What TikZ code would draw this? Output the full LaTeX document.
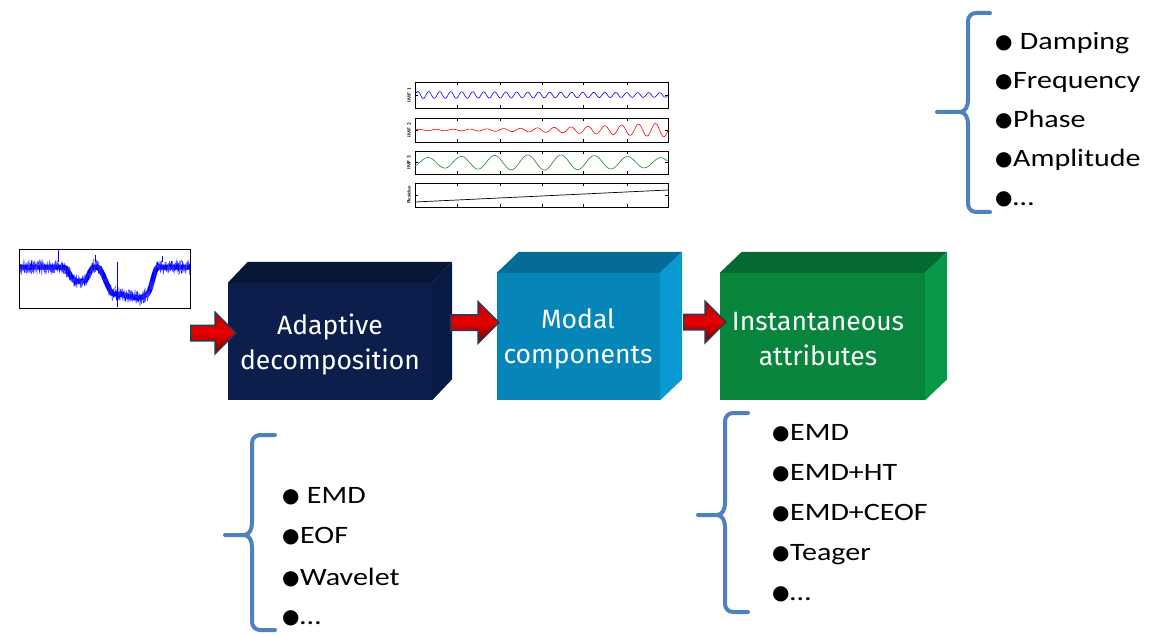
\documentclass[tikz,border=0pt]{standalone}
\usepackage{fontspec}
\setmainfont{Carlito}
\newfontfamily\boxfont{Fira Sans}
\newfontfamily\listfont[FakeStretch=1.2]{Carlito}
\newfontfamily\dejavu{DejaVu Sans}
\usetikzlibrary{shapes.arrows,calc}

\definecolor{navyF}{HTML}{0B1E4C}
\definecolor{navyT}{HTML}{081638}
\definecolor{navyS}{HTML}{071A44}
\definecolor{cyanF}{HTML}{0585B8}
\definecolor{cyanT}{HTML}{046C96}
\definecolor{cyanS}{HTML}{0A9AD2}
\definecolor{grnF}{HTML}{07853D}
\definecolor{grnT}{HTML}{056A2F}
\definecolor{grnS}{HTML}{079848}
\definecolor{braceblue}{HTML}{4F81BD}
\definecolor{arrowedge}{HTML}{2B3A55}
\definecolor{imfgreen}{HTML}{1E8A1E}

\newcommand\blt{\makebox[18pt][l]{\raisebox{1pt}{\dejavu\fontsize{20}{20}\selectfont ●}}}
\newcommand\mybrace[6]{%
  \draw[bracestyle] (#1,#4) -- (#2+8,#4) to[out=180,in=90] (#2,#4+8)
    -- (#2,#5-12) to[out=-90,in=0] (#2-8,#5) -- (#3,#5) -- (#2-8,#5)
    to[out=0,in=90] (#2,#5+12) -- (#2,#6-8) to[out=-90,in=180] (#2+8,#6) -- (#1,#6);}

\begin{document}
\begin{tikzpicture}[x=1pt,y=-1pt,
  declare function={
    clampx(\t)=min(max(\t,0),1);
    sst(\t)=3*clampx(\t)*clampx(\t)-2*clampx(\t)*clampx(\t)*clampx(\t);
    sigbase(\u)=267+14*(sst((\u-63)/13)-sst((\u-84)/10))+27*(sst((\u-97)/17)-sst((\u-147)/11))+4*sst((\u-115)/25)-4*sst((\u-140)/8);
  },
  face/.style={inner sep=0pt},
  boxtext/.style={inner sep=0pt, text=white, font=\boxfont\fontsize{26.5}{35}\selectfont, align=center},
  arr/.style={single arrow, draw=arrowedge, line width=1.5pt, top color=red!75!black,
    bottom color=red!45!black, middle color=red!90!black, inner xsep=0pt, inner ysep=7pt,
    single arrow head extend=13pt},
  bracestyle/.style={draw=braceblue, line width=4pt, line cap=round, line join=round},
  listitem/.style={inner sep=0pt, anchor=base west, font=\listfont\fontsize{25}{30}\selectfont},
  panel/.style={draw=black, line width=0.5pt, inner sep=0pt, minimum width=253pt},
  tick/.style={line width=0.4pt},
  imflabel/.style={rotate=90, inner sep=0pt, font=\sffamily\bfseries\fontsize{5}{5}\selectfont}]
\useasboundingbox[fill=white] (0,0) rectangle (1150,636);

% ---------- 3D boxes ----------
\node[face, fill=navyF, minimum width=204pt, minimum height=117pt] (b1) at (330,341.5) {};
\fill[navyT] (b1.north west) -- ++(20,-21) -- ($(b1.north east)+(20,-21)$) -- (b1.north east) -- cycle;
\fill[navyS] (b1.north east) -- ++(20,-21) -- ($(b1.south east)+(20,-21)$) -- (b1.south east) -- cycle;
\node[boxtext] (t1) at (330,344) {Adaptive\\decomposition};

\node[face, fill=cyanF, minimum width=163pt, minimum height=127pt] (b2) at (578.5,336.5) {};
\fill[cyanT] (b2.north west) -- ++(22,-21) -- ($(b2.north east)+(22,-21)$) -- (b2.north east) -- cycle;
\fill[cyanS] (b2.north east) -- ++(22,-21) -- ($(b2.south east)+(22,-21)$) -- (b2.south east) -- cycle;
\node[boxtext] (t2) at (578,339) {Modal\\components};

\node[face, fill=grnF, minimum width=205pt, minimum height=127pt] (b3) at (822.5,336.5) {};
\fill[grnT] (b3.north west) -- ++(22,-21) -- ($(b3.north east)+(22,-21)$) -- (b3.north east) -- cycle;
\fill[grnS] (b3.north east) -- ++(22,-21) -- ($(b3.south east)+(22,-21)$) -- (b3.south east) -- cycle;
\node[boxtext] (t3) at (818,339) {Instantaneous\\attributes};

% ---------- block arrows ----------
\node[arr, minimum height=45pt] (a1) at (209.5,333) {};
\node[arr, minimum height=48pt] (a2) at (471,322.5) {};
\node[arr, minimum height=42pt] (a3) at (701,322) {};

% ---------- input signal ----------
\pgfmathsetseed{7}
\node[draw=black, line width=0.8pt, minimum width=171pt, minimum height=59pt, inner sep=0pt] (sig) at (105,278.5) {};
\begin{scope}
\clip (sig.south west) rectangle (sig.north east);
\draw[blue, line width=5pt, line join=round] plot[domain=20:190, samples=200] (\x, {sigbase(\x)});
\draw[blue, line width=0.35pt] plot[domain=20:190, samples=500] (\x, {sigbase(\x)+6.5*rand});
\draw[blue!75!white, line width=0.3pt] plot[domain=20:190, samples=300] (\x, {sigbase(\x)+8*rand});
\draw[blue, line width=0.6pt] (58,249) -- (58,262) (95,255) -- (95,262) (117,262) -- (117,307) (162,256) -- (162,262);
\end{scope}

% ---------- modal components ----------
\node[panel, minimum height=26pt] (m1) at (541.5,95) {};
\node[panel, minimum height=24pt] (m2) at (541.5,130) {};
\node[panel, minimum height=23pt] (m3) at (541.5,162.5) {};
\node[panel, minimum height=24pt] (m4) at (541.5,195) {};
\foreach \m in {m1,m2,m3,m4}{
  \foreach \tx in {457,500,542,583,627}{
    \draw[tick] (\tx,0 |- \m.south) -- ++(0,-3);
    \draw[tick] (\tx,0 |- \m.north) -- ++(0,3);
  }
  \draw[tick] (\m.east) -- ++(-3,0);
  \draw[tick] (\m.west) -- ++(3,0);
}
\draw[blue, line width=0.6pt] plot[domain=0:1, samples=500] ({415+253*\x}, {95 - (3.5-1.3*\x)*sin(8280*\x)});
\draw[red, line width=0.6pt] plot[domain=0:1, samples=500] ({415+253*\x}, {130 - (0.6+6.5*\x*\x)*sin(5400*\x)});
\draw[imfgreen, line width=0.6pt] plot[domain=0:1, samples=400] ({415+253*\x}, {162.5 - (4.5+3*sin(180*\x))*sin(2736*\x - 50)});
\draw[black, line width=0.7pt] (415,202) -- (668,190);
\node[imflabel] (l1) at (409,95) {IMF 1};
\node[imflabel] (l2) at (409,130) {IMF 2};
\node[imflabel] (l3) at (409,162.5) {IMF 3};
\node[imflabel] (l4) at (409,195) {Residue};

% ---------- braces ----------
\mybrace{990}{968}{937}{13}{112}{212}
\mybrace{275}{252}{225}{435}{535}{630}
\mybrace{748}{725}{698}{413}{515}{612}

% ---------- lists ----------
\node[listitem] (tr1) at (995,50) {\blt\ Damping};
\node[listitem] (tr2) at (995,89) {\blt Frequency};
\node[listitem] (tr3) at (995,128) {\blt Phase};
\node[listitem] (tr4) at (995,167) {\blt Amplitude};
\node[listitem] (tr5) at (995,206) {\blt …};

\node[listitem] (bl1) at (282,503) {\blt\ EMD};
\node[listitem] (bl2) at (282,543) {\blt EOF};
\node[listitem] (bl3) at (282,585) {\blt Wavelet};
\node[listitem] (bl4) at (282,624) {\blt …};

\node[listitem] (br1) at (772,440) {\blt EMD};
\node[listitem] (br2) at (772,480) {\blt EMD+HT};
\node[listitem] (br3) at (772,520) {\blt EMD+CEOF};
\node[listitem] (br4) at (772,560) {\blt Teager};
\node[listitem] (br5) at (772,600) {\blt …};
\end{tikzpicture}
\end{document}
